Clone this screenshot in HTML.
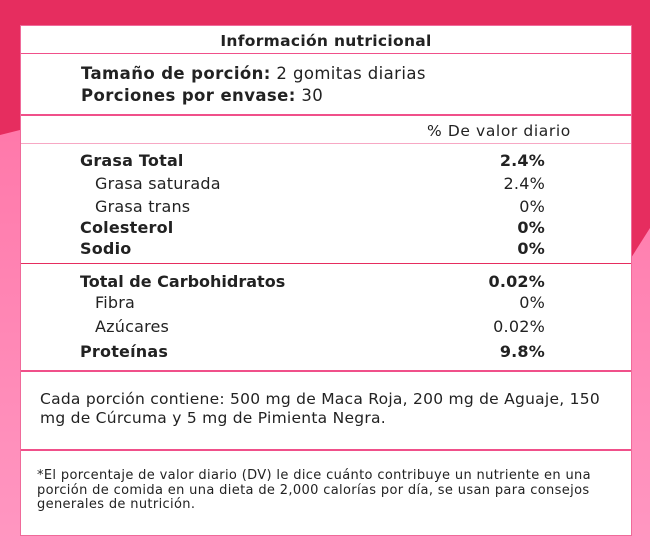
<!DOCTYPE html>
<html><head><meta charset="utf-8"><style>
body{margin:0;width:650px;height:560px;overflow:hidden;position:relative;font-family:"DejaVu Sans",sans-serif;color:#222}
svg.bg{position:absolute;left:0;top:0}
.box{position:absolute;left:20px;top:25px;width:610px;height:509px;background:#fff;border:1px solid #f06a9a}
.t{position:absolute;white-space:nowrap}
.hl{position:absolute;left:0;width:610px;height:1px;background:#f0508a}
.b{font-weight:bold}
.r{right:86px;text-align:right}
.row{font-size:16px;letter-spacing:0.2px}
</style></head><body>
<svg class="bg" width="650" height="560">
<defs><linearGradient id="g" x1="0" y1="0" x2="0" y2="1"><stop offset="0" stop-color="#ff6fa3"/><stop offset="1" stop-color="#ff98c2"/></linearGradient></defs>
<rect width="650" height="560" fill="url(#g)"/>
<polygon points="0,0 650,0 650,228 631,258 20,130 0,135" fill="#e62d5f"/>
</svg>
<div class="box">
<div class="t b" style="left:0;width:610px;text-align:center;top:6px;font-size:15.5px;letter-spacing:0.3px">Información nutricional</div>
<div class="hl" style="top:27px"></div>
<div class="t row" style="left:60px;top:38px;font-size:16.5px;letter-spacing:0.4px"><b>Tamaño de porción:</b> 2 gomitas diarias</div>
<div class="t row" style="left:60px;top:60px;font-size:16.5px;letter-spacing:0.4px"><b>Porciones por envase:</b> 30</div>
<div class="hl" style="top:88px;height:2px"></div>
<div class="t row" style="left:406px;top:96px;font-size:15.5px;letter-spacing:0.6px">% De valor diario</div>
<div class="hl" style="top:117px;background:#f7a8c4"></div>
<div class="t b row" style="left:59px;top:125px">Grasa Total</div><div class="t b r row" style="top:125px">2.4%</div>
<div class="t row" style="left:74px;top:148px">Grasa saturada</div><div class="t r row" style="top:148px">2.4%</div>
<div class="t row" style="left:74px;top:171px">Grasa trans</div><div class="t r row" style="top:171px">0%</div>
<div class="t b row" style="left:59px;top:192px">Colesterol</div><div class="t b r row" style="top:192px">0%</div>
<div class="t b row" style="left:59px;top:213px">Sodio</div><div class="t b r row" style="top:213px">0%</div>
<div class="hl" style="top:237px;background:#e62d5f"></div>
<div class="t b row" style="left:59px;top:246px;letter-spacing:0">Total de Carbohidratos</div><div class="t b r row" style="top:246px">0.02%</div>
<div class="t row" style="left:74px;top:267px">Fibra</div><div class="t r row" style="top:267px">0%</div>
<div class="t row" style="left:74px;top:291px">Azúcares</div><div class="t r row" style="top:291px">0.02%</div>
<div class="t b row" style="left:59px;top:316px">Proteínas</div><div class="t b r row" style="top:316px">9.8%</div>
<div class="hl" style="top:344px;height:2px"></div>
<div class="t" style="left:19px;top:364px;font-size:15.5px;line-height:19px;letter-spacing:0.25px">Cada porción contiene: 500 mg de Maca Roja, 200 mg de Aguaje, 150<br>mg de Cúrcuma y 5 mg de Pimienta Negra.</div>
<div class="hl" style="top:423px;height:2px"></div>
<div class="t" style="left:16px;top:443px;font-size:13px;line-height:14.5px;letter-spacing:0.35px">*El porcentaje de valor diario (DV) le dice cuánto contribuye un nutriente en una<br>porción de comida en una dieta de 2,000 calorías por día, se usan para consejos<br>generales de nutrición.</div>
</div>
</body></html>
